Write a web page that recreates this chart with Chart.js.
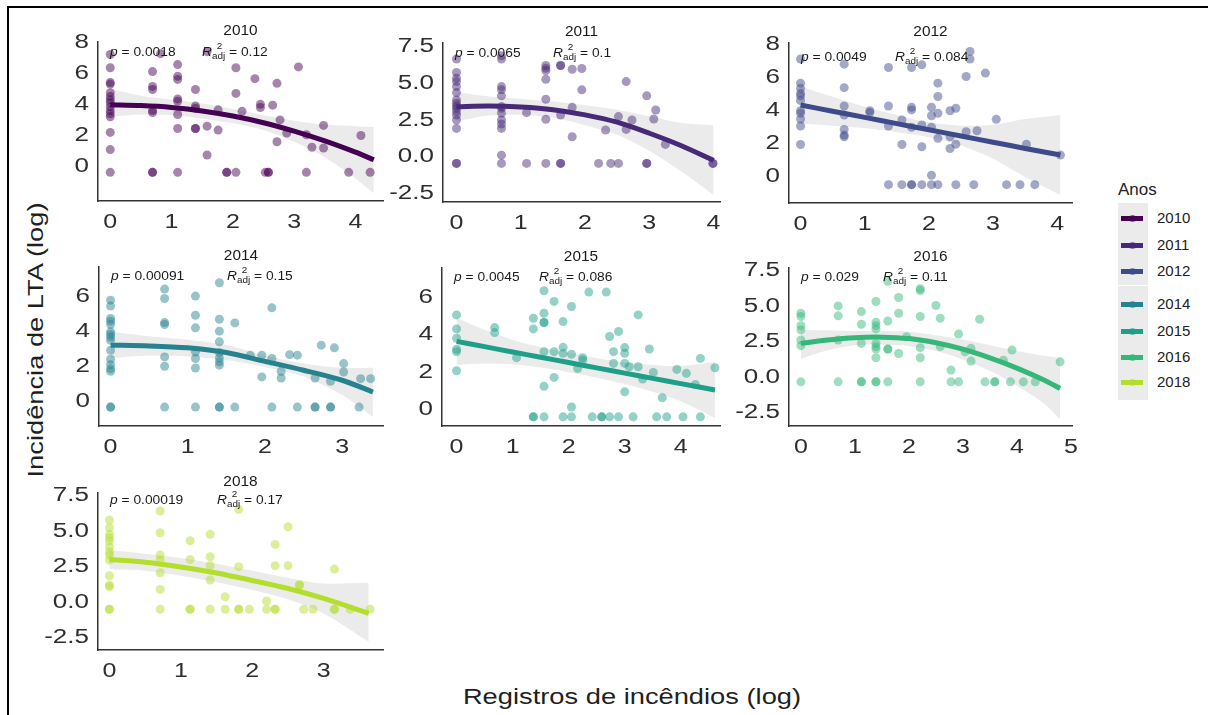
<!DOCTYPE html>
<html lang="pt">
<head>
<meta charset="utf-8">
<title>Incidência de LTA x Registros de incêndios</title>
<script src="https://cdn.jsdelivr.net/npm/chart.js@4.4.1/dist/chart.umd.min.js"></script>
<style>
  html, body { margin: 0; padding: 0; background: #fff; }
  #fig { position: relative; width: 1208px; height: 715px; overflow: hidden;
         font-family: "Liberation Sans", Arial, sans-serif; }
  #fig canvas { position: absolute; }
  .moldura { position: absolute; background: #000; }
  .titulo-eixo { position: absolute; font-size: 22px; color: #1f1f1f; white-space: nowrap; line-height: 1; }
  #titulo-x { left: 632px; top: 697px; transform: translate(-50%, -50%) scaleX(1.24); }
  #titulo-y { left: 36px; top: 340px; transform: translate(-50%, -50%) rotate(-90deg) scaleX(1.24); }
  .leg-txt { position: absolute; color: #222; white-space: nowrap; line-height: 1; }
  .leg-fundo { position: absolute; background: #ebebeb; }
  .leg-barra { position: absolute; height: 5px; }
  .leg-ponto { position: absolute; width: 7px; height: 7px; border-radius: 50%; }
</style>
</head>
<body>
<div id="fig">
  <div class="moldura" style="left:7px;top:6px;width:1201px;height:2px"></div>
  <div class="moldura" style="left:7px;top:6px;width:2px;height:709px"></div>
  <div id="titulo-y" class="titulo-eixo">Incidência de LTA (log)</div>
  <div id="titulo-x" class="titulo-eixo">Registros de incêndios (log)</div>
</div>
<script>
// anos (um painel por ano) e cores da escala viridis
const anos = ['2010', '2011', '2012', '2014', '2015', '2016', '2018'];
const cores = ['#440154', '#482878', '#3e4a89', '#26828e', '#1f9e89', '#35b779', '#b4de2c'];
const pValores = ['0.0018', '0.0065', '0.0049', '0.00091', '0.0045', '0.029', '0.00019'];
const r2Valores = ['0.12', '0.1', '0.084', '0.15', '0.086', '0.11', '0.17'];

// pontos agrupados por coluna: [registros (log), [incidências (log)]]
const pts2010 = [
  [0, [7.2, 6.35, 5.4, 5.3, 4.75, 4.5, 4.3, 4.1, 3.85, 3.6, 3.4, 3.2, 2.2, 1.1, -0.36]],
  [0.69, [6.1, 5.15, 4.95, 3.6, 3.48, -0.36, -0.36]],
  [0.82, [7.25]],
  [1.1, [6.55, 5.8, 5.6, 4.35, 4.2, 3.35, 2.45, -0.36]],
  [1.39, [4.95, 3.9, 3.75, 2.45, 2.45]],
  [1.58, [7.38, 2.6, 0.75]],
  [1.76, [3.65, 2.35]],
  [1.9, [-0.36, -0.36]],
  [2.05, [6.35, 4.7, -0.36]],
  [2.15, [3.55]],
  [2.36, [5.65]],
  [2.45, [4.0, 3.8]],
  [2.53, [-0.36]],
  [2.58, [-0.36, -0.36]],
  [2.65, [3.95]],
  [2.72, [5.35, 1.6]],
  [2.77, [3.0]],
  [2.88, [2.15]],
  [3.07, [6.4]],
  [3.2, [2.05, -0.36]],
  [3.29, [1.25]],
  [3.48, [2.65, 1.2]],
  [3.89, [-0.36]],
  [4.09, [2.0]],
  [4.24, [-0.36]]
];
const pts2011 = [
  [0, [6.64, 5.73, 5.34, 5.11, 4.77, 4.36, 3.86, 3.64, 3.45, 3.3, 3.07, 2.84, 2.5, 1.93, -0.45, -0.45]],
  [0.7, [6.86, 6.64, 4.77, 4.55, 4.14, 3.41, 3.3, 2.95, 2.5, 2.23, 1.93, 0.11, -0.45]],
  [1.09, [3.0, -0.45]],
  [1.39, [6.2, 6.02, 5.86, 5.27, 3.91, 2.55, -0.45]],
  [1.62, [6.2, 6.2, 2.84, -0.45, -0.45]],
  [1.8, [5.95, 3.36, 1.36]],
  [1.95, [6.0, 4.55]],
  [2.21, [-0.45]],
  [2.32, [1.82]],
  [2.4, [-0.45]],
  [2.52, [2.73, -0.45]],
  [2.64, [5.11, 1.86]],
  [2.73, [2.5]],
  [2.96, [4.14, -0.45, -0.45]],
  [3.07, [2.57]],
  [3.1, [3.18]],
  [3.25, [0.84]],
  [3.99, [-0.45, -0.45]]
];
const pts2012 = [
  [0, [7.13, 5.67, 5.36, 5.06, 4.9, 4.62, 4.0, 3.85, 3.5, 3.08, 1.96]],
  [0.68, [6.82, 5.4, 4.29, 3.74, 2.87, 2.53, 2.43]],
  [1.08, [4.0, 3.89]],
  [1.37, [6.62, 4.29, 3.08, -0.47]],
  [1.58, [3.44, 1.96, -0.47]],
  [1.73, [6.62, 4.21, 4.05, 3.0, -0.47, -0.47]],
  [1.89, [6.78, 3.14, 1.82, -0.47]],
  [2.04, [4.21, 3.7, 3.0, 0.1, -0.47]],
  [2.14, [5.67, 4.86, 3.85, 2.33, -0.47]],
  [2.33, [4.0, 2.43, 1.72]],
  [2.42, [4.15, 1.98, -0.47]],
  [2.58, [6.07, 2.73]],
  [2.64, [7.59, 7.13]],
  [2.7, [-0.47]],
  [2.75, [2.79]],
  [2.88, [6.28]],
  [3.05, [3.48]],
  [3.21, [-0.47]],
  [3.42, [-0.47]],
  [3.52, [1.98]],
  [3.65, [-0.47]],
  [4.05, [1.32]]
];
const pts2014 = [
  [0, [5.81, 5.47, 4.76, 4.61, 4.42, 4.0, 3.85, 3.71, 3.52, 2.95, 2.44, 2.13, 1.9, 1.75, -0.29, -0.29]],
  [0.7, [6.44, 5.9, 4.53, 4.42, 2.57, 2.04, -0.29]],
  [1.1, [6.04, 4.95, 4.23, 2.86, 2.48, 1.94, -0.29]],
  [1.41, [6.8, 4.72, 4.04, 3.43, 2.82, 2.51, 2.29, 2.1, -0.29, -0.29]],
  [1.61, [4.51, -0.29]],
  [1.81, [2.67]],
  [1.96, [2.67, 1.43]],
  [2.09, [5.37, 2.48, -0.29]],
  [2.21, [1.75, 1.37]],
  [2.32, [2.7]],
  [2.42, [2.67, -0.29]],
  [2.65, [1.37, -0.29, -0.29]],
  [2.73, [3.24]],
  [2.85, [1.18, -0.29, -0.29]],
  [2.9, [3.09]],
  [3.02, [2.19, 1.71]],
  [3.22, [-0.29]],
  [3.24, [1.33]],
  [3.37, [1.33]]
];
const pts2015 = [
  [0, [5.07, 4.32, 3.82, 3.23, 3.1, 2.08]],
  [0.68, [4.39, 4.12]],
  [1.07, [2.78]],
  [1.37, [4.89, 4.32, -0.39, -0.39]],
  [1.56, [6.36, 5.16, 4.66, 4.66, 3.1, 1.25, -0.39]],
  [1.74, [5.79, 3.1, 1.72]],
  [1.9, [4.71, 3.33, 3.01, -0.39]],
  [2.05, [5.52, 2.96, 0.14, -0.39]],
  [2.16, [2.2]],
  [2.25, [2.78, 2.65]],
  [2.36, [6.29]],
  [2.42, [-0.39]],
  [2.59, [-0.39, -0.39]],
  [2.67, [6.29]],
  [2.73, [3.91, -0.39]],
  [2.8, [3.1, 2.47]],
  [2.89, [4.18, -0.39]],
  [3.0, [3.32, 3.01, 2.47, 0.95]],
  [3.08, [2.29]],
  [3.15, [-0.39]],
  [3.24, [5.07, 2.29]],
  [3.32, [1.63]],
  [3.44, [3.24]],
  [3.51, [1.99]],
  [3.57, [-0.39]],
  [3.67, [0.63]],
  [3.75, [-0.39]],
  [3.93, [2.15]],
  [4.04, [-0.39]],
  [4.1, [1.94]],
  [4.26, [1.34]],
  [4.35, [2.74, -0.39]],
  [4.61, [2.24]]
];
const pts2016 = [
  [0, [4.5, 4.27, 3.63, 3.33, 2.62, 2.22, -0.33]],
  [0.69, [5.02, 4.32, 2.62, -0.33]],
  [1.12, [4.62, 3.73, 2.38, -0.33, -0.33]],
  [1.39, [5.33, 3.87, 3.63, 3.4, 2.38, 2.15, 1.98, 1.37, -0.33, -0.33]],
  [1.61, [6.75, 3.96, 1.98, 1.98, -0.33]],
  [1.81, [5.61, 4.5, 1.67]],
  [1.96, [2.85]],
  [2.21, [6.23, 6.1, 4.27, 2.08, 1.37, -0.33]],
  [2.5, [5.05]],
  [2.58, [4.15, 2.15]],
  [2.78, [0.5, -0.33]],
  [2.92, [3.04, -0.33]],
  [3.04, [1.79]],
  [3.15, [2.03, 1.13]],
  [3.31, [4.08]],
  [3.41, [-0.33]],
  [3.59, [-0.33, -0.33]],
  [3.75, [1.2]],
  [3.88, [-0.33]],
  [3.91, [1.91]],
  [4.12, [-0.33]],
  [4.34, [-0.33]],
  [4.8, [1.08]]
];
const pts2018 = [
  [0, [5.77, 5.23, 4.77, 4.53, 4.3, 3.9, 3.54, 3.31, 2.96, 1.85, 1.2, 1.08, -0.51, -0.51]],
  [0.71, [6.41, 4.88, 3.31, 2.96, 2.06, 0.89, -0.51]],
  [1.13, [4.32, 3.0, -0.51, -0.51]],
  [1.41, [4.77, 3.19, 2.56, 1.55, -0.51]],
  [1.62, [0.37, -0.51]],
  [1.81, [6.53, 2.49, -0.51, -0.51]],
  [1.96, [-0.51]],
  [2.2, [0.07, -0.51]],
  [2.32, [4.06, 2.56, -0.51, -0.51]],
  [2.5, [5.3, 2.56]],
  [2.66, [1.2, 1.2]],
  [2.72, [-0.51]],
  [2.85, [-0.51]],
  [3.15, [2.32, -0.51, -0.51]],
  [3.37, [-0.51]],
  [3.65, [-0.51]]
];

// curva ajustada e intervalo de confiança
const fitX2010 = [0, 0.5, 1, 1.5, 2, 2.5, 3, 3.5, 4, 4.3];
const fitY2010 = [3.97, 3.92, 3.8, 3.58, 3.25, 2.82, 2.28, 1.65, 0.93, 0.45];
const icInf2010 = [3.2, 3.35, 3.3, 3.1, 2.8, 2.35, 1.6, 0.6, -0.75, -1.7];
const icSup2010 = [5.0, 4.55, 4.3, 4.05, 3.7, 3.3, 2.95, 2.7, 2.6, 2.55];

const fitX2011 = [0, 0.5, 1, 1.5, 2, 2.5, 3, 3.5, 4];
const fitY2011 = [3.4, 3.45, 3.38, 3.2, 2.85, 2.35, 1.6, 0.75, -0.25];
const icInf2011 = [2.4, 2.8, 2.85, 2.65, 2.15, 1.5, 0.4, -1.0, -2.6];
const icSup2011 = [4.4, 4.1, 3.95, 3.75, 3.5, 3.2, 2.75, 2.3, 2.15];

const fitX2012 = [0, 0.5, 1, 1.5, 2, 2.5, 3, 3.5, 4.05];
const fitY2012 = [4.35, 3.97, 3.6, 3.22, 2.85, 2.47, 2.1, 1.72, 1.32];
const icInf2012 = [3.23, 3.1, 2.95, 2.7, 2.4, 1.9, 1.1, 0.0, -1.1];
const icSup2012 = [5.47, 4.85, 4.25, 3.75, 3.3, 3.1, 3.15, 3.5, 3.75];

const fitX2014 = [0, 0.5, 1, 1.5, 2, 2.5, 3, 3.4];
const fitY2014 = [3.24, 3.2, 3.09, 2.82, 2.32, 1.81, 1.24, 0.57];
const icInf2014 = [2.5, 2.65, 2.6, 2.4, 2.0, 1.45, 0.4, -0.85];
const icSup2014 = [4.0, 3.75, 3.55, 3.25, 2.65, 2.2, 1.95, 1.95];

const fitX2015 = [0, 0.5, 1, 1.5, 2, 2.5, 3, 3.5, 4, 4.61];
const fitY2015 = [3.65, 3.37, 3.08, 2.8, 2.52, 2.23, 1.95, 1.67, 1.39, 1.05];
const icInf2015 = [2.4, 2.47, 2.43, 2.25, 2.0, 1.71, 1.37, 0.95, 0.44, -0.45];
const icSup2015 = [4.9, 4.27, 3.73, 3.35, 3.04, 2.75, 2.53, 2.39, 2.34, 2.55];

const fitX2016 = [0, 0.5, 1, 1.5, 2, 2.5, 3, 3.5, 4, 4.5, 4.8];
const fitY2016 = [2.38, 2.62, 2.78, 2.82, 2.72, 2.42, 1.97, 1.36, 0.64, -0.2, -0.8];
const icInf2016 = [1.3, 1.9, 2.25, 2.3, 2.2, 1.85, 1.25, 0.45, -0.6, -1.85, -2.95];
const icSup2016 = [3.33, 3.3, 3.25, 3.25, 3.2, 2.95, 2.65, 2.25, 1.85, 1.5, 1.35];

const fitX2018 = [0, 0.5, 1, 1.5, 2, 2.5, 3, 3.63];
const fitY2018 = [3.0, 2.8, 2.47, 2.05, 1.52, 0.95, 0.25, -0.8];
const icInf2018 = [2.3, 2.2, 1.85, 1.4, 0.85, 0.2, -0.8, -2.8];
const icSup2018 = [3.66, 3.4, 3.1, 2.7, 2.2, 1.7, 1.3, 1.35];

// marcas dos eixos
const xTicks2010 = ['0', '1', '2', '3', '4'];
const yTicks2010 = ['0', '2', '4', '6', '8'];
const xTicks2011 = ['0', '1', '2', '3', '4'];
const yTicks2011 = ['-2.5', '0.0', '2.5', '5.0', '7.5'];
const xTicks2012 = ['0', '1', '2', '3', '4'];
const yTicks2012 = ['0', '2', '4', '6', '8'];
const xTicks2014 = ['0', '1', '2', '3'];
const yTicks2014 = ['0', '2', '4', '6'];
const xTicks2015 = ['0', '1', '2', '3', '4'];
const yTicks2015 = ['0', '2', '4', '6'];
const xTicks2016 = ['0', '1', '2', '3', '4', '5'];
const yTicks2016 = ['-2.5', '0.0', '2.5', '5.0', '7.5'];
const xTicks2018 = ['0', '1', '2', '3'];
const yTicks2018 = ['-2.5', '0.0', '2.5', '5.0', '7.5'];

// limites de cada eixo (escalas livres)
const xLim = [[-0.2, 4.45], [-0.21, 4.1], [-0.18, 4.23], [-0.15, 3.53], [-0.26, 4.7], [-0.22, 5.02], [-0.16, 3.83]];
const yLim = [[-2.2, 8.0], [-3.07, 7.73], [-1.58, 8.1], [-1.37, 7.7], [-0.88, 7.58], [-3.44, 7.69], [-3.38, 7.68]];

const paineis = [
  { pts: pts2010, fx: fitX2010, fy: fitY2010, lo: icInf2010, hi: icSup2010, xt: xTicks2010, yt: yTicks2010 },
  { pts: pts2011, fx: fitX2011, fy: fitY2011, lo: icInf2011, hi: icSup2011, xt: xTicks2011, yt: yTicks2011 },
  { pts: pts2012, fx: fitX2012, fy: fitY2012, lo: icInf2012, hi: icSup2012, xt: xTicks2012, yt: yTicks2012 },
  { pts: pts2014, fx: fitX2014, fy: fitY2014, lo: icInf2014, hi: icSup2014, xt: xTicks2014, yt: yTicks2014 },
  { pts: pts2015, fx: fitX2015, fy: fitY2015, lo: icInf2015, hi: icSup2015, xt: xTicks2015, yt: yTicks2015 },
  { pts: pts2016, fx: fitX2016, fy: fitY2016, lo: icInf2016, hi: icSup2016, xt: xTicks2016, yt: yTicks2016 },
  { pts: pts2018, fx: fitX2018, fy: fitY2018, lo: icInf2018, hi: icSup2018, xt: xTicks2018, yt: yTicks2018 }
];

// área de plotagem de cada painel na figura (px), posição da linha p e do R²
const caixas = [
  { L: 98, T: 42, R: 383, B: 201, pY: 11, rX: 104 },
  { L: 443, T: 43, R: 720, B: 202, pY: 11, rX: 110 },
  { L: 789, T: 43, R: 1072, B: 203, pY: 15, rX: 106 },
  { L: 99, T: 267, R: 383, B: 426, pY: 10, rX: 128 },
  { L: 442, T: 268, R: 720, B: 426, pY: 10, rX: 97 },
  { L: 789, T: 268, R: 1072, B: 426, pY: 10, rX: 94 },
  { L: 98, T: 493, R: 383, B: 650, pY: 8, rX: 119 }
];

const FONTE = '"Liberation Sans", Arial, sans-serif';
const fig = document.getElementById('fig');

function rgba(hex, a) {
  const n = parseInt(hex.slice(1), 16);
  return `rgba(${n >> 16},${(n >> 8) & 255},${n & 255},${a})`;
}

// texto com esticamento horizontal
function esticado(ctx, txt, x, y, sx) {
  ctx.save();
  ctx.translate(x, y);
  ctx.scale(sx, 1);
  ctx.fillText(txt, 0, 0);
  ctx.restore();
}

function serie(xs, ys) {
  return xs.map((x, k) => ({ x: x, y: ys[k] }));
}

// rótulos dos eixos, título do painel e anotações p / R²adj
function rotulos(i) {
  return {
    id: 'rotulos' + i,
    afterDraw(chart) {
      const { ctx, chartArea: a, scales } = chart;
      const p = paineis[i];
      const c = caixas[i];
      ctx.save();
      ctx.textBaseline = 'middle';
      ctx.fillStyle = '#2e2e2e';
      ctx.font = '20px ' + FONTE;
      ctx.textAlign = 'right';
      scales.y.ticks.forEach((t, k) => {
        esticado(ctx, p.yt[k], a.left - 9, scales.y.getPixelForValue(t.value), 1.3);
      });
      ctx.textAlign = 'center';
      scales.x.ticks.forEach((t, k) => {
        esticado(ctx, p.xt[k], scales.x.getPixelForValue(t.value), a.bottom + 21, 1.25);
      });

      ctx.fillStyle = '#1a1a1a';
      ctx.font = '14px ' + FONTE;
      esticado(ctx, anos[i], (a.left + a.right) / 2, a.top - 11, 1.1);

      const ay = a.top + c.pY;
      const s = 1.15;
      ctx.textAlign = 'left';
      let x = a.left + 12;
      ctx.font = 'italic 12px ' + FONTE;
      esticado(ctx, 'p', x, ay, s);
      x += ctx.measureText('p').width * s;
      ctx.font = '12px ' + FONTE;
      esticado(ctx, ' = ' + pValores[i], x, ay, s);

      let rx = a.left + c.rX;
      ctx.font = 'italic 12px ' + FONTE;
      esticado(ctx, 'R', rx, ay, s);
      rx += ctx.measureText('R').width * s;
      ctx.font = '9px ' + FONTE;
      const wAdj = ctx.measureText('adj').width * 1.1;
      esticado(ctx, 'adj', rx, ay + 4, 1.1);
      ctx.textAlign = 'center';
      esticado(ctx, '2', rx + wAdj / 2 + 1, ay - 6, 1.1);
      ctx.textAlign = 'left';
      ctx.font = '12px ' + FONTE;
      esticado(ctx, ' = ' + r2Valores[i], rx + wAdj, ay, s);
      ctx.restore();
    }
  };
}

function criarPainel(i) {
  const p = paineis[i];
  const c = caixas[i];
  const padL = 70, padT = 34, padR = 8, padB = 36;
  const w = c.R - c.L + padL + padR;
  const h = c.B - c.T + padT + padB;
  const canvas = document.createElement('canvas');
  canvas.width = w;
  canvas.height = h;
  canvas.style.left = (c.L - padL) + 'px';
  canvas.style.top = (c.T - padT) + 'px';
  canvas.style.width = w + 'px';
  canvas.style.height = h + 'px';
  fig.appendChild(canvas);

  const pontos = [];
  p.pts.forEach(([x, ys]) => ys.forEach(y => pontos.push({ x: x, y: y })));
  const xv = p.xt.map(Number);
  const yv = p.yt.map(Number);

  new Chart(canvas, {
    type: 'scatter',
    data: {
      datasets: [
        { type: 'line', data: serie(p.fx, p.hi), borderWidth: 0, borderColor: 'transparent',
          pointRadius: 0, fill: '+1', backgroundColor: '#ebebeb', tension: 0.3, order: 3 },
        { type: 'line', data: serie(p.fx, p.lo), borderWidth: 0, borderColor: 'transparent',
          pointRadius: 0, fill: false, tension: 0.3, order: 3 },
        { type: 'scatter', data: pontos, pointRadius: 4.5, borderWidth: 0,
          backgroundColor: rgba(cores[i], 0.48), order: 2 },
        { type: 'line', data: serie(p.fx, p.fy), borderColor: cores[i], borderWidth: 5,
          pointRadius: 0, fill: false, tension: 0.3, order: 1 }
      ]
    },
    options: {
      responsive: false,
      animation: false,
      devicePixelRatio: 1,
      layout: { padding: { top: padT, right: padR, left: 0, bottom: 0 } },
      plugins: { legend: { display: false }, tooltip: { enabled: false } },
      scales: {
        x: {
          type: 'linear', min: xLim[i][0], max: xLim[i][1],
          grid: { display: false, drawTicks: false },
          border: { display: true, color: '#333', width: 1.5 },
          ticks: { display: false },
          afterBuildTicks: s => { s.ticks = xv.map(v => ({ value: v })); },
          afterFit: s => { s.height = padB; }
        },
        y: {
          type: 'linear', min: yLim[i][0], max: yLim[i][1],
          grid: { display: false, drawTicks: false },
          border: { display: true, color: '#333', width: 1.5 },
          ticks: { display: false },
          afterBuildTicks: s => { s.ticks = yv.map(v => ({ value: v })); },
          afterFit: s => { s.width = padL; }
        }
      }
    },
    plugins: [rotulos(i)]
  });
}

paineis.forEach((_, i) => criarPainel(i));

// legenda "Anos"
function legenda() {
  const linhas = [218, 245, 271, 304, 331, 357, 382];
  const add = (cls, css, txt) => {
    const d = document.createElement('div');
    d.className = cls;
    d.style.cssText = css;
    if (txt) d.textContent = txt;
    fig.appendChild(d);
  };
  add('leg-txt', 'left:1118px;top:181px;font-size:17px', 'Anos');
  add('leg-fundo', 'left:1118px;top:203px;width:30px;height:82px');
  add('leg-fundo', 'left:1118px;top:286px;width:30px;height:114px');
  anos.forEach((ano, k) => {
    const y = linhas[k];
    add('leg-barra', `left:1121px;top:${y - 2.5}px;width:22px;background:${cores[k]}`);
    add('leg-ponto', `left:1128.5px;top:${y - 3.5}px;background:${rgba(cores[k], 0.6)}`);
    add('leg-txt', `left:1157px;top:${y - 8}px;font-size:15px`, ano);
  });
}
legenda();
</script>
</body>
</html>
